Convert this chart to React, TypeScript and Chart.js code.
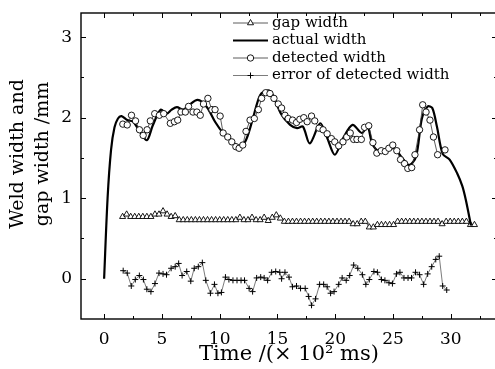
import { useEffect, useRef } from 'react';
import { Chart, registerables } from 'chart.js';
import { drawPoint } from 'chart.js/helpers';

Chart.register(...registerables);

// ---------- data ----------
const actualTime = [0, 0.3, 0.6, 0.9, 1.2, 1.5, 2.0, 2.5, 3.0, 3.7, 4.2, 4.9, 5.4, 5.85, 6.3, 6.85, 7.3, 8.1, 8.9, 9.6, 10.3, 11.0, 11.6, 12.2, 12.8, 13.5, 14.2, 14.6, 15.3, 16.1, 16.7, 17.2, 17.8, 18.7, 19.3, 19.96, 20.7, 21.5, 22.3, 22.8, 23.2, 23.8, 24.5, 25.1, 25.8, 26.4, 27.0, 27.5, 28.0, 28.4, 28.8, 29.3, 29.9, 30.55, 31.0, 31.3, 31.75];
const actualWidth = [0, 1.0, 1.6, 1.88, 1.99, 2.02, 1.97, 1.95, 1.85, 1.72, 1.9, 2.1, 2.05, 2.1, 2.13, 2.1, 2.15, 2.22, 2.13, 1.95, 1.81, 1.72, 1.65, 1.70, 1.95, 2.28, 2.34, 2.28, 2.05, 1.91, 1.87, 1.89, 1.68, 1.93, 1.75, 1.54, 1.75, 1.91, 1.81, 1.89, 1.68, 1.58, 1.60, 1.62, 1.50, 1.41, 1.52, 1.99, 2.14, 2.12, 1.89, 1.55, 1.48, 1.31, 1.15, 0.98, 0.66];

const detectedTime = [1.62, 2.0, 2.37, 2.72, 3.06, 3.38, 3.72, 4.0, 4.38, 4.78, 5.16, 5.73, 6.08, 6.37, 6.65, 7.03, 7.31, 7.69, 8.03, 8.32, 8.6, 8.98, 9.33, 9.6, 10.04, 10.3, 10.7, 11.05, 11.4, 11.68, 12.0, 12.28, 12.63, 13.0, 13.35, 13.63, 13.98, 14.35, 14.7, 15.07, 15.36, 15.65, 15.93, 16.31, 16.65, 16.94, 17.28, 17.57, 17.95, 18.23, 18.6, 18.95, 19.3, 19.67, 19.96, 20.3, 20.67, 21.0, 21.3, 21.6, 21.88, 22.26, 22.54, 22.9, 23.26, 23.6, 23.98, 24.33, 24.64, 24.98, 25.33, 25.65, 26.0, 26.28, 26.62, 26.9, 27.3, 27.57, 27.86, 28.2, 28.5, 28.86, 29.5];
const detectedWidth = [1.92, 1.91, 2.03, 1.96, 1.85, 1.78, 1.85, 1.96, 2.05, 2.03, 2.05, 1.93, 1.95, 1.97, 2.07, 2.07, 2.14, 2.07, 2.07, 2.03, 2.17, 2.24, 2.10, 2.10, 2.02, 1.81, 1.76, 1.70, 1.64, 1.62, 1.66, 1.83, 1.97, 1.99, 2.10, 2.24, 2.31, 2.30, 2.24, 2.17, 2.12, 2.03, 1.99, 1.97, 1.94, 1.98, 2.00, 1.95, 2.02, 1.96, 1.87, 1.85, 1.80, 1.74, 1.70, 1.65, 1.70, 1.76, 1.81, 1.73, 1.73, 1.73, 1.88, 1.90, 1.69, 1.56, 1.59, 1.58, 1.62, 1.66, 1.59, 1.48, 1.43, 1.37, 1.38, 1.54, 1.85, 2.16, 2.07, 1.97, 1.76, 1.54, 1.60];

const gapTime = [1.6, 1.95, 2.3, 2.65, 3.0, 3.35, 3.7, 4.05, 4.4, 4.75, 5.1, 5.45, 5.8, 6.15, 6.5, 6.85, 7.2, 7.55, 7.9, 8.25, 8.6, 8.95, 9.3, 9.65, 10.0, 10.35, 10.7, 11.05, 11.4, 11.75, 12.1, 12.45, 12.8, 13.15, 13.5, 13.85, 14.2, 14.55, 14.9, 15.25, 15.6, 15.95, 16.3, 16.65, 17.0, 17.35, 17.7, 18.05, 18.4, 18.75, 19.1, 19.45, 19.8, 20.15, 20.5, 20.85, 21.2, 21.55, 21.9, 22.25, 22.6, 22.95, 23.3, 23.65, 24.0, 24.35, 24.7, 25.05, 25.4, 25.75, 26.1, 26.45, 26.8, 27.15, 27.5, 27.85, 28.2, 28.55, 28.9, 29.25, 29.6, 29.95, 30.3, 30.65, 31.0, 31.35, 31.7, 32.05];
const gapWidth = [0.77, 0.80, 0.77, 0.77, 0.77, 0.77, 0.77, 0.77, 0.80, 0.80, 0.84, 0.80, 0.77, 0.78, 0.73, 0.73, 0.73, 0.73, 0.73, 0.73, 0.73, 0.73, 0.73, 0.73, 0.73, 0.73, 0.73, 0.73, 0.73, 0.76, 0.73, 0.73, 0.76, 0.73, 0.73, 0.76, 0.72, 0.76, 0.79, 0.75, 0.71, 0.71, 0.71, 0.71, 0.71, 0.71, 0.71, 0.71, 0.71, 0.71, 0.71, 0.71, 0.71, 0.71, 0.71, 0.71, 0.71, 0.68, 0.68, 0.71, 0.71, 0.64, 0.64, 0.67, 0.67, 0.67, 0.67, 0.67, 0.71, 0.71, 0.71, 0.71, 0.71, 0.71, 0.71, 0.71, 0.71, 0.71, 0.71, 0.68, 0.71, 0.71, 0.71, 0.71, 0.71, 0.71, 0.67, 0.67];

const errorTime = [1.65, 2.0, 2.35, 2.7, 3.05, 3.4, 3.7, 4.05, 4.4, 4.75, 5.1, 5.4, 5.8, 6.15, 6.45, 6.75, 7.15, 7.5, 7.8, 8.15, 8.5, 8.8, 9.2, 9.55, 9.85, 10.15, 10.5, 10.8, 11.15, 11.5, 11.85, 12.15, 12.55, 12.85, 13.2, 13.55, 13.85, 14.15, 14.5, 14.85, 15.2, 15.36, 15.65, 16.0, 16.3, 16.65, 17.0, 17.4, 17.7, 17.95, 18.3, 18.65, 19.0, 19.3, 19.6, 19.9, 20.3, 20.6, 20.95, 21.25, 21.6, 21.95, 22.35, 22.65, 22.95, 23.35, 23.65, 24.0, 24.3, 24.65, 24.95, 25.3, 25.6, 25.95, 26.3, 26.6, 26.95, 27.3, 27.65, 28.0, 28.35, 28.7, 29.0, 29.3, 29.65];
const errorWidth = [0.10, 0.07, -0.09, -0.01, 0.04, -0.01, -0.13, -0.16, -0.06, 0.07, 0.06, 0.05, 0.13, 0.15, 0.19, 0.04, 0.09, -0.03, 0.13, 0.15, 0.20, -0.02, -0.18, -0.07, -0.18, -0.17, 0.02, -0.01, -0.02, -0.02, -0.02, -0.02, -0.12, -0.16, 0.01, 0.02, 0.01, -0.02, 0.08, 0.09, 0.08, 0.00, 0.08, 0.02, -0.10, -0.09, -0.12, -0.12, -0.22, -0.33, -0.25, -0.07, -0.07, -0.10, -0.18, -0.16, -0.07, 0.01, -0.02, 0.04, 0.17, 0.13, 0.05, -0.07, -0.01, 0.09, 0.08, -0.01, -0.02, -0.05, -0.06, 0.06, 0.08, 0.01, 0.01, 0.01, 0.08, 0.05, -0.07, 0.06, 0.15, 0.24, 0.28, -0.09, -0.14];

const xMajorTicks = [0, 5, 10, 15, 20, 25, 30];
const xMinorTicks = [2.5, 7.5, 12.5, 17.5, 22.5, 27.5, 32.5];
const yMajorTicks = [0, 1, 2, 3];
const yMinorTicks = [0.5, 1.5, 2.5];

const legendLabels = ['gap width', 'actual width', 'detected width', 'error of detected width'];
const xTitle = 'Time /(\u00d7 10\u00b2 ms)';
const yTitle = ['Weld width and', 'gap width /mm'];

const FONT = "'DejaVu Serif', serif";

const zip = (xs: number[], ys: number[]) => xs.map((x, i) => ({ x, y: ys[i] }));

const frameAndTicks = {
  id: 'frameAndTicks',
  afterDatasetsDraw(chart: any) {
    const { ctx, chartArea: a, scales } = chart;
    const x = scales.x;
    const y = scales.y;
    ctx.save();
    ctx.strokeStyle = '#000';
    ctx.lineWidth = 1.4;
    ctx.strokeRect(a.left, a.top, a.right - a.left, a.bottom - a.top);
    ctx.lineWidth = 1;
    const vt = (v: number, len: number) => {
      const px = Math.round(x.getPixelForValue(v)) + 0.5;
      ctx.beginPath();
      ctx.moveTo(px, a.bottom);
      ctx.lineTo(px, a.bottom - len);
      ctx.moveTo(px, a.top);
      ctx.lineTo(px, a.top + len);
      ctx.stroke();
    };
    const ht = (v: number, len: number) => {
      const py = Math.round(y.getPixelForValue(v)) + 0.5;
      ctx.beginPath();
      ctx.moveTo(a.left, py);
      ctx.lineTo(a.left + len, py);
      ctx.moveTo(a.right, py);
      ctx.lineTo(a.right - len, py);
      ctx.stroke();
    };
    xMajorTicks.forEach((v) => vt(v, 5));
    xMinorTicks.forEach((v) => vt(v, 3));
    yMajorTicks.forEach((v) => ht(v, 5));
    yMinorTicks.forEach((v) => ht(v, 3));
    ctx.restore();
  },
};

const yTitlePlugin = {
  id: 'yTitle',
  afterDraw(chart: any) {
    const ctx = chart.ctx;
    ctx.save();
    ctx.translate(18.5, 154);
    ctx.rotate(-Math.PI / 2);
    ctx.fillStyle = '#000';
    ctx.font = `19px ${FONT}`;
    ctx.textAlign = 'center';
    ctx.textBaseline = 'middle';
    yTitle.forEach((line, i) => ctx.fillText(line, 0, i * 24.5));
    ctx.restore();
  },
};

const legendOrder = [2, 1, 0, 3];

const customLegend = {
  id: 'customLegend',
  afterDraw(chart: any) {
    const ctx = chart.ctx;
    const x0 = 233;
    const x1 = 268;
    const top = 23;
    const gap = 17.5;
    ctx.save();
    legendLabels.forEach((label, i) => {
      const ds: any = chart.data.datasets[legendOrder[i]];
      const yy = top + i * gap;
      ctx.strokeStyle = ds.borderColor;
      ctx.lineWidth = ds.borderWidth;
      ctx.beginPath();
      ctx.moveTo(x0, yy);
      ctx.lineTo(x1, yy);
      ctx.stroke();
      if (ds.pointRadius > 0) {
        ctx.fillStyle = ds.pointBackgroundColor;
        ctx.strokeStyle = ds.pointBorderColor;
        ctx.lineWidth = ds.pointBorderWidth;
        drawPoint(ctx, { pointStyle: ds.pointStyle, rotation: 0, radius: ds.pointRadius, borderWidth: ds.pointBorderWidth }, (x0 + x1) / 2, yy);
      }
      ctx.fillStyle = '#000';
      ctx.font = `15px ${FONT}`;
      ctx.textAlign = 'left';
      ctx.textBaseline = 'middle';
      ctx.fillText(label, x1 + 4, yy);
    });
    ctx.restore();
  },
};

export default function App() {
  const ref = useRef<HTMLCanvasElement>(null);
  useEffect(() => {
    document.body.style.margin = '0';
    document.body.style.overflow = 'hidden';
    const canvas = ref.current;
    if (!canvas) return;
    const chart = new Chart(canvas, {
      type: 'line',
      data: {
        datasets: [
          {
            label: legendLabels[2],
            data: zip(detectedTime, detectedWidth),
            borderColor: '#333',
            borderWidth: 0.8,
            pointStyle: 'circle',
            pointRadius: 3.2,
            pointBackgroundColor: '#fff',
            pointBorderColor: '#000',
            pointBorderWidth: 0.9,
            tension: 0,
          },
          {
            label: legendLabels[1],
            data: zip(actualTime, actualWidth),
            borderColor: '#000',
            borderWidth: 2.2,
            pointRadius: 0,
            tension: 0.3,
          },
          {
            label: legendLabels[0],
            data: zip(gapTime, gapWidth),
            borderColor: '#333',
            borderWidth: 0.8,
            pointStyle: 'triangle',
            pointRadius: 3.5,
            pointBackgroundColor: '#fff',
            pointBorderColor: '#000',
            pointBorderWidth: 0.9,
            tension: 0,
          },
          {
            label: legendLabels[3],
            data: zip(errorTime, errorWidth),
            borderColor: '#444',
            borderWidth: 0.7,
            pointStyle: 'cross',
            pointRadius: 3,
            pointBackgroundColor: '#000',
            pointBorderColor: '#000',
            pointBorderWidth: 1,
            tension: 0,
          },
        ] as any,
      },
      options: {
        animation: false,
        responsive: false,
        events: [],
        layout: { padding: { top: 13, right: 0, left: 0, bottom: 0 } },
        plugins: { legend: { display: false }, tooltip: { enabled: false } },
        scales: {
          x: {
            type: 'linear',
            min: -2,
            max: 34,
            grid: { display: false, drawTicks: false },
            border: { display: false },
            afterBuildTicks: (s: any) => {
              s.ticks = xMajorTicks.map((value) => ({ value }));
            },
            afterFit: (s: any) => {
              s.height = 50;
              s.paddingLeft = 0;
              s.paddingRight = 0;
            },
            ticks: { color: '#000', padding: 10, maxRotation: 0, font: { family: FONT, size: 17 } },
            title: {
              display: true,
              text: xTitle,
              color: '#000',
              font: { family: FONT, size: 21 },
              padding: { top: 0, bottom: 2 },
            },
          },
          y: {
            type: 'linear',
            min: -0.5,
            max: 3.3,
            grid: { display: false, drawTicks: false },
            border: { display: false },
            afterBuildTicks: (s: any) => {
              s.ticks = yMajorTicks.map((value) => ({ value }));
            },
            afterFit: (s: any) => {
              s.width = 81;
              s.paddingTop = 0;
              s.paddingBottom = 0;
            },
            ticks: { color: '#000', padding: 9, font: { family: FONT, size: 17 } },
            title: { display: false },
          },
        },
      },
      plugins: [frameAndTicks, customLegend, yTitlePlugin],
    });
    return () => chart.destroy();
  }, []);
  return (
    <div style={{ width: 495, height: 369, overflow: 'hidden' }}>
      <canvas ref={ref} width={502} height={369} style={{ display: 'block' }} />
    </div>
  );
}
